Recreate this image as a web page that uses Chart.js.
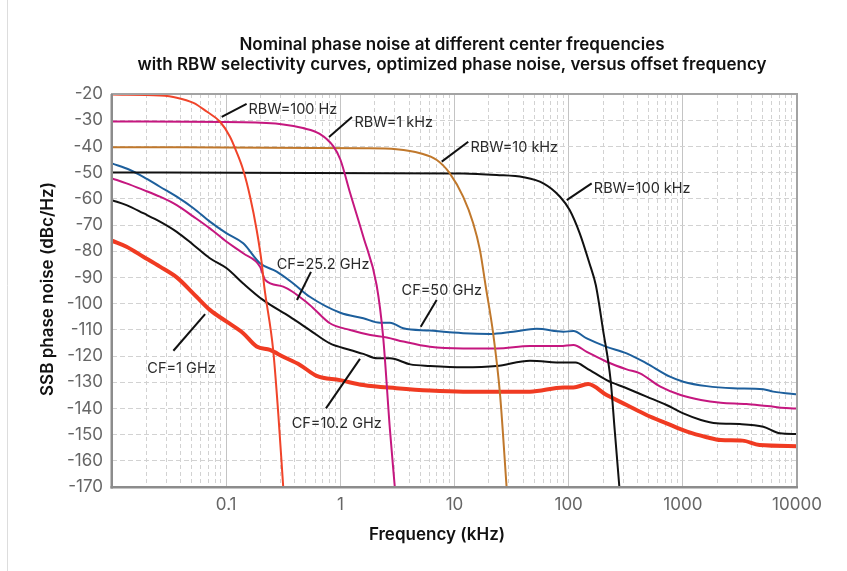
<!DOCTYPE html>
<html>
<head>
<meta charset="utf-8">
<script src="https://cdn.jsdelivr.net/npm/chart.js@4.4.1/dist/chart.umd.min.js"></script>
<style>
  html, body { margin: 0; padding: 0; background: #ffffff; }
  #wrap { position: relative; width: 847px; height: 571px; }
</style>
</head>
<body>
<div id="wrap"><canvas id="c" width="847" height="571"></canvas></div>
<script>
// ---- Data (frequency in kHz, level in dBc/Hz) ----
const rbw100HzFreq = [0.01,0.0263,0.0369,0.0517,0.0675,0.0884,0.108,0.123,0.141,0.162,0.185,0.205,0.215,0.258,0.286,0.316];
const rbw100HzVals = [-20.2,-20.6,-21.4,-23.4,-26.7,-30.6,-36.3,-42,-49,-59.2,-71.9,-84.6,-93,-117.7,-142,-170];

const rbw1kHzFreq = [0.01,0.141,0.316,0.47,0.66,0.87,1.0,1.22,1.59,2.08,2.37,2.72,3.0];
const rbw1kHzVals = [-30.5,-30.8,-31.6,-33,-35.2,-40,-45,-57.9,-74.5,-93,-112.6,-148.2,-170];

const rbw10kHzFreq = [0.01,1.59,3.1,5.0,7.0,9.1,11.9,14.6,16.7,18.7,21.8,25,28.6];
const rbw10kHzVals = [-40.3,-40.7,-41.1,-42.6,-45.2,-50.3,-59.2,-69.4,-79.5,-93,-111.3,-134.2,-170];

const rbw100kHzFreq = [0.01,11.9,23.4,40.3,60,84,102,125,152,173,200,233,253,278];
const rbw100kHzVals = [-50,-50.3,-50.9,-51.8,-54.1,-59.2,-64.3,-73.2,-84.6,-93,-110,-129.2,-148.2,-170];

const cf50Freq = [0.01,0.0144,0.0188,0.0263,0.0369,0.0517,0.072,0.101,0.141,0.198,0.277,0.387,0.54,1.0,1.59,2.22,2.72,3.56,6.1,11.9,20.4,32.7,52.4,89.8,110,144,215,322,481,771,1009,1616,2760,5070,6200,9270,10000];
const cf50Vals = [-46.5,-49,-51.6,-55.4,-59.2,-63.6,-68.7,-73.2,-77,-84.6,-87.8,-92.3,-97.4,-103.5,-105.6,-107.3,-107.3,-109.4,-110.3,-111.3,-111.6,-110.7,-109.6,-110.7,-110.5,-113.3,-116.5,-119,-122.8,-127.9,-129.8,-131.5,-132.3,-132.7,-133.6,-134.5,-134.6];

const cf25Freq = [0.01,0.0134,0.0188,0.0263,0.0369,0.0517,0.072,0.101,0.141,0.198,0.22,0.316,0.54,0.81,1.22,1.83,2.55,3.56,6.1,11.9,23.4,45.8,84,110,144,215,322,421,636,955,1440,2150,3600,5480,9270,10000];
const cf25Vals = [-52.2,-54.1,-56.6,-59.2,-62.4,-66.8,-71.3,-76.4,-80.8,-85.9,-91,-93.5,-100.5,-107.5,-110.1,-112,-112.9,-114.5,-116.5,-117.1,-117.1,-116.2,-116.2,-115.8,-118.4,-122.2,-125.1,-126.6,-131.7,-134.9,-136.8,-137.8,-138.3,-139.1,-140,-140];

const cf10Freq = [0.01,0.0134,0.0188,0.0263,0.0369,0.0517,0.072,0.101,0.141,0.21,0.36,0.54,0.81,1.22,1.59,2.1,2.72,4.1,6.1,11.9,23.4,45.8,89.8,115,144,215,322,481,720,1009,1440,1980,3150,5070,7100,10000];
const cf10Vals = [-60.5,-62.4,-65.5,-68.7,-72.6,-77.6,-82.7,-86.5,-92.3,-98.6,-105,-110.1,-115.2,-117.7,-119.2,-120.9,-120.9,-123.2,-123.8,-124.3,-123.8,-121.8,-122.5,-122.5,-124.7,-129.2,-132.3,-135.5,-138.7,-141.9,-144.4,-145.7,-146,-147,-149.5,-149.8];

const cf1Freq = [0.01,0.0134,0.0188,0.0263,0.0369,0.055,0.072,0.101,0.141,0.185,0.242,0.316,0.443,0.62,0.99,1.59,3.1,6.1,11.9,23.4,45.8,89.8,110,148,215,322,481,720,1090,1616,2150,3340,4700,10000];
const cf1Vals = [-76,-78.3,-82.1,-85.9,-90,-97.4,-102.4,-106.9,-111.3,-116.4,-117.7,-120.3,-123.4,-127.6,-129.2,-131.1,-132.3,-133.2,-133.6,-133.6,-133.6,-132,-132,-130.7,-134.9,-138.7,-142.5,-145.7,-148.9,-151,-152.1,-152.3,-154,-154.4];

// ---- Axis ticks / labels ----
const xMajorTicks = [0.1, 1, 10, 100, 1000, 10000];
const xTickLabels = ['0.1', '1', '10', '100', '1000', '10000'];
const yTicks = [-170,-160,-150,-140,-130,-120,-110,-100,-90,-80,-70,-60,-50,-40,-30,-20];

// ---- Annotation labels: text, text anchor (f, dB), leader from (f1,v1) to (f2,v2) ----
const labelTexts = ['RBW=100 Hz','RBW=1 kHz','RBW=10 kHz','RBW=100 kHz','CF=25.2 GHz','CF=50 GHz','CF=1 GHz','CF=10.2 GHz'];
const labelAt = [[0.157,-26.1],[1.33,-30.8],[13.8,-40.3],[166,-56.3],[0.277,-85],[3.44,-95.2],[0.0204,-124.7],[0.375,-146]];
const leaderFrom = [[0.0914,-28.7],[0.796,-36.4],[7.73,-45.8],[96.2,-60.5],[0.417,-98.6],[5.06,-108.8],[0.0345,-118],[0.748,-140]];
const leaderTo = [[0.151,-23.8],[1.265,-28.8],[13.2,-38.2],[159,-54.1],[0.553,-87.9],[6.98,-98.6],[0.0654,-104],[1.486,-121.1]];

function pts(xs, ys) { return xs.map((x, i) => ({ x: x, y: ys[i] })); }

const FONT = 'Inter, "Open Sans", "DejaVu Sans", sans-serif';

const overlay = {
  id: 'overlay',
  beforeDraw(chart) {
    const c = chart.ctx;
    c.save();
    c.fillStyle = '#fff';
    c.fillRect(0, 0, chart.width, chart.height);
    c.strokeStyle = '#dddddd';
    c.lineWidth = 1;
    c.beginPath();
    c.moveTo(7.5, 0); c.lineTo(7.5, chart.height);
    c.stroke();
    c.restore();
  },
  afterDatasetsDraw(chart) {
    const c = chart.ctx, a = chart.chartArea;
    const xs = chart.scales.x, ys = chart.scales.y;
    c.save();
    // frame
    c.strokeStyle = '#a3a3a3';
    c.lineWidth = 2;
    c.strokeRect(a.left, a.top, a.right - a.left, a.bottom - a.top);
    c.fillStyle = '#8c8c8c';
    c.fillRect(a.left - 1.5, a.top, 2.5, a.bottom - a.top + 1.5);
    c.fillRect(a.left - 1.5, a.bottom - 1, a.right - a.left + 2.5, 2.5);
    // annotations
    c.strokeStyle = '#111';
    c.lineWidth = 2;
    for (let i = 0; i < labelTexts.length; i++) {
      c.beginPath();
      c.moveTo(xs.getPixelForValue(leaderFrom[i][0]), ys.getPixelForValue(leaderFrom[i][1]));
      c.lineTo(xs.getPixelForValue(leaderTo[i][0]), ys.getPixelForValue(leaderTo[i][1]));
      c.stroke();
    }
    c.fillStyle = '#2a2a2a';
    c.font = '400 14.5px ' + FONT;
    c.textAlign = 'left';
    c.textBaseline = 'middle';
    for (let i = 0; i < labelTexts.length; i++) {
      c.fillText(labelTexts[i], xs.getPixelForValue(labelAt[i][0]), ys.getPixelForValue(labelAt[i][1]));
    }
    c.restore();
  },
  afterDraw(chart) {
    const c = chart.ctx;
    c.save();
    c.fillStyle = '#111';
    c.textAlign = 'center';
    c.textBaseline = 'middle';
    c.font = '600 17px ' + FONT;
    c.fillText('Nominal phase noise at different center frequencies', 452, 45);
    c.fillText('with RBW selectivity curves, optimized phase noise, versus offset frequency', 452, 65);
    c.fillText('Frequency (kHz)', 437, 535);
    c.translate(48, 289);
    c.rotate(-Math.PI / 2);
    c.fillText('SSB phase noise (dBc/Hz)', 0, 0);
    c.restore();
  }
};

function ds(xs, ys, color, width) {
  return { data: pts(xs, ys), borderColor: color, borderWidth: width, pointRadius: 0, fill: false,
           cubicInterpolationMode: 'monotone' };
}

new Chart(document.getElementById('c'), {
  type: 'line',
  data: {
    datasets: [
      ds(rbw100HzFreq, rbw100HzVals, '#f0442a', 2),
      ds(rbw1kHzFreq, rbw1kHzVals, '#c5177f', 2),
      ds(rbw10kHzFreq, rbw10kHzVals, '#c0782c', 2),
      ds(rbw100kHzFreq, rbw100kHzVals, '#111111', 2),
      ds(cf50Freq, cf50Vals, '#1d5f9c', 2),
      ds(cf25Freq, cf25Vals, '#c5177f', 2),
      ds(cf10Freq, cf10Vals, '#111111', 2),
      ds(cf1Freq, cf1Vals, '#f03b22', 4)
    ]
  },
  options: {
    responsive: false,
    animation: false,
    layout: { padding: { left: 0, right: 50, top: 94, bottom: 0 } },
    plugins: { legend: { display: false }, tooltip: { enabled: false }, title: { display: false } },
    scales: {
      x: {
        type: 'logarithmic',
        min: 0.01, max: 10000,
        afterBuildTicks(s) {
          const t = [];
          for (let e = -2; e <= 3; e++) {
            for (let m = 1; m <= 9; m++) t.push({ value: +(m * Math.pow(10, e)).toPrecision(6), major: m === 1 });
          }
          t.push({ value: 10000, major: true });
          s.ticks = t;
        },
        afterFit(s) { s.height = 84; },
        ticks: {
          autoSkip: false, maxRotation: 0, minRotation: 0, padding: 8,
          color: '#666666', font: { family: FONT, size: 17 },
          callback(v) {
            const i = xMajorTicks.findIndex(t => Math.abs(t - v) / t < 1e-6);
            return i >= 0 ? xTickLabels[i] : '';
          }
        },
        grid: {
          drawTicks: false,
          lineWidth: 1,
          color(ctx) { return ctx.tick && ctx.tick.major ? '#c4c4c4' : '#d2d2d2'; }
        },
        border: {
          display: false,
          dash(ctx) { return ctx.tick && ctx.tick.major ? [] : [4, 3]; }
        }
      },
      y: {
        type: 'linear',
        min: -170, max: -20,
        afterBuildTicks(s) { s.ticks = yTicks.map(v => ({ value: v })); },
        afterFit(s) { s.width = 112; },
        ticks: {
          padding: 9, color: '#666666', font: { family: FONT, size: 17 },
          callback(v) { return String(v); }
        },
        grid: { drawTicks: false, lineWidth: 1, color: '#d2d2d2' },
        border: { display: false, dash: [5, 3] }
      }
    }
  },
  plugins: [overlay]
});
</script>
</body>
</html>
